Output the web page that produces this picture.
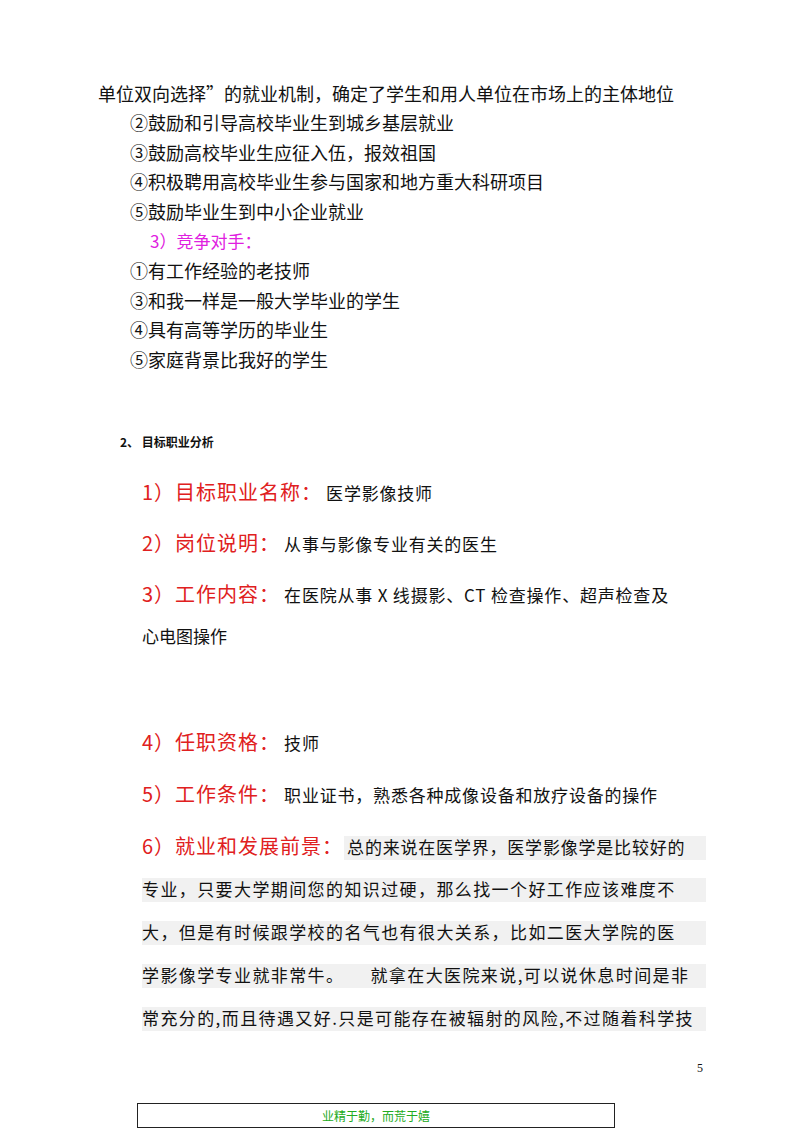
<!DOCTYPE html>
<html><head><meta charset="utf-8">
<script src="https://cdn.jsdelivr.net/npm/chart.js"></script>
<style>
body{margin:0;width:800px;height:1132px;background:#fff;font-family:"Noto Sans CJK SC",sans-serif;position:relative;overflow:hidden}
.l{position:absolute;white-space:nowrap;color:#111;font-size:17px;line-height:1}
.r{color:#e02020;font-size:20px;letter-spacing:1px;margin-right:4px}
.hl{background:#f1f1f1}
</style></head><body>
<div id="root"></div>
<script>
const topLines=["单位双向选择”的就业机制，确定了学生和用人单位在市场上的主体地位","②鼓励和引导高校毕业生到城乡基层就业","③鼓励高校毕业生应征入伍，报效祖国","④积极聘用高校毕业生参与国家和地方重大科研项目","⑤鼓励毕业生到中小企业就业"];
const rivalsTitle="3）竞争对手：";
const rivals=["①有工作经验的老技师","③和我一样是一般大学毕业的学生","④具有高等学历的毕业生","⑤家庭背景比我好的学生"];
const section="2、 目标职业分析";
const items=[["1）目标职业名称：","医学影像技师",482],["2）岗位说明：","从事与影像专业有关的医生",533],["3）工作内容：","在医院从事 X 线摄影、CT 检查操作、超声检查及",584],["4）任职资格：","技师",732],["5）工作条件：","职业证书，熟悉各种成像设备和放疗设备的操作",784],["6）就业和发展前景：","总的来说在医学界，医学影像学是比较好的",836]];
const para=["专业，只要大学期间您的知识过硬，那么找一个好工作应该难度不","大，但是有时候跟学校的名气也有很大关系，比如二医大学院的医","学影像学专业就非常牛。&nbsp;&nbsp;&nbsp;&nbsp;&nbsp;就拿在大医院来说,可以说休息时间是非","常充分的,而且待遇又好.只是可能存在被辐射的风险,不过随着科学技"];
const R=document.getElementById('root');
function add(t,x,y,cls,style){const d=document.createElement('div');d.className='l '+(cls||'');d.style.left=x+'px';d.style.top=y+'px';if(style)Object.assign(d.style,style);d.innerHTML=t;R.appendChild(d);return d;}
add(topLines[0],98,84,'',{fontSize:'18px'});
topLines.slice(1).forEach((t,i)=>add(t,130,113+i*29.5,'',{fontSize:'18px'}));
add(rivalsTitle,150,232,'',{color:'#e020e0',fontSize:'17px'});
rivals.forEach((t,i)=>add(t,130,261+i*29.5,'',{fontSize:'18px'}));
add(section,120,436,'',{fontSize:'12px',fontWeight:'bold'});
items.forEach(([h,b,y])=>add('<span class="r">'+h+'</span>'+b,142,y,'',{fontSize:'17px',letterSpacing:'0.8px'}));
add("心电图操作",142,627,'',{fontSize:'17px'});
add('',344,836,'hl',{width:'362px',height:'24px',zIndex:-1});
para.forEach((t,i)=>{add('',142,878+i*43,'hl',{width:'564px',height:'24px',zIndex:-1});add(t,142,880+i*43,'',{fontSize:'17px',letterSpacing:'1.4px'});});
add("5",697,1062,'',{fontSize:'12px',fontFamily:'Liberation Serif'});
add("业精于勤，而荒于嬉",137,1103,'',{width:'476px',height:'23px',border:'1.5px solid #222',color:'#22aa22',fontSize:'12px',textAlign:'center',lineHeight:'23px'});
</script>
</body></html>
